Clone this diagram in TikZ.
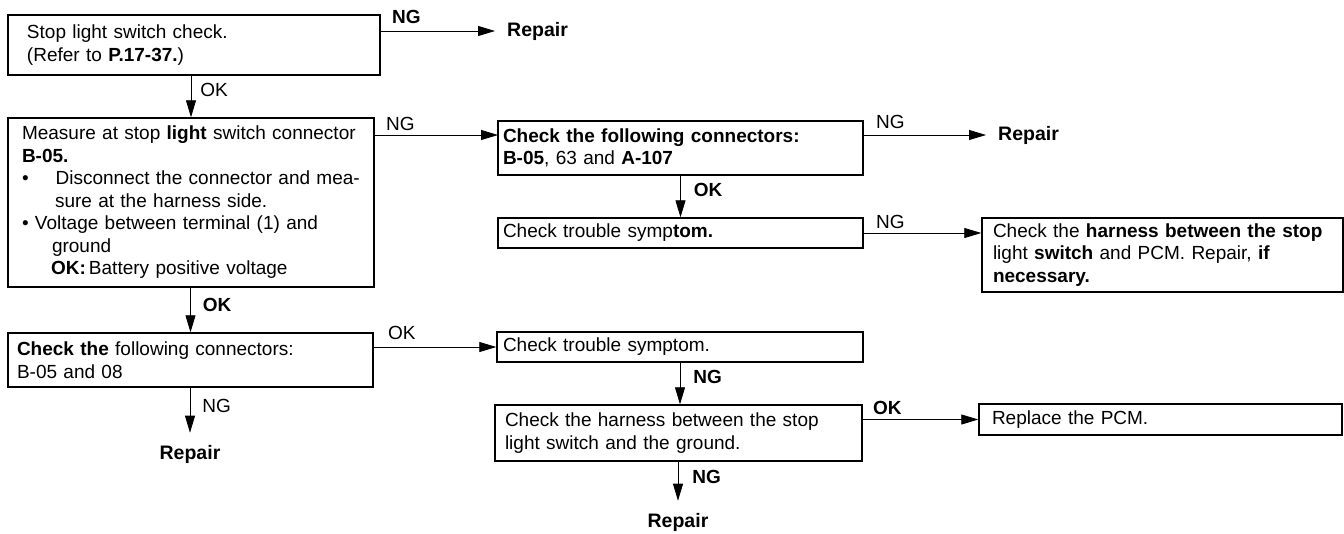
\documentclass[tikz,border=0pt]{standalone}
\usepackage{fontspec}
\setmainfont{Liberation Sans}
\usetikzlibrary{arrows.meta}

\begin{document}
\begin{tikzpicture}[
    x=1pt, y=-1pt,
    every node/.style={font=\fontsize{19}{22.5}\selectfont},
    box/.style={draw, line width=1.4pt, align=left, inner ysep=0pt},
    term/.style={font=\fontsize{19.5}{22.5}\selectfont\bfseries, inner sep=12pt},
    lbl/.style={inner sep=0pt},
    lblb/.style={inner sep=0pt, font=\fontsize{19}{22.5}\selectfont\bfseries},
    arr/.style={line width=0.8pt, -{Triangle[length=17pt, width=10pt]}}
  ]
  \useasboundingbox (0,0) rectangle (1344,533);

  % Left column
  \node[box, minimum width=372pt, minimum height=60pt, inner xsep=19pt, text width=334pt] (stopchk) at (194,45)
    {Stop light switch check.\\(Refer to \textbf{P.17-37.})};
  \node[box, minimum width=366pt, minimum height=169pt, inner xsep=14pt, text width=338pt] (measure) at (191,202.5)
    {Measure at stop \textbf{light} switch connector\\
     \textbf{B-05.}\\
     \textbullet\hspace{27pt}Disconnect the connector and mea-\\
     \hspace*{33pt}sure at the harness side.\\
     \textbullet\ Voltage between terminal (1) and\\
     \hspace*{30pt}ground\\
     \hspace*{29pt}\textbf{OK:}\,Battery positive voltage};
  \node[box, minimum width=365pt, minimum height=54pt, inner xsep=9pt, text width=347pt] (conn2) at (190.5,360)
    {\textbf{Check the} following connectors:\\B-05 and 08};
  \node[term] (rep3) at (190,454) {Repair};

  % Middle column
  \node[box, minimum width=365pt, minimum height=54pt, inner xsep=5pt, text width=355pt] (conn1) at (680.5,148)
    {\textbf{Check the following connectors:}\\\textbf{B-05}, 63 and \textbf{A-107}};
  \node[box, minimum width=365pt, minimum height=30pt, inner xsep=5pt, text width=355pt] (trbl1) at (680.5,233)
    {Check trouble symp\textbf{tom.}};
  \node[box, minimum width=366pt, minimum height=30pt, inner xsep=6pt, text width=354pt] (trbl2) at (680,347)
    {Check trouble symptom.};
  \node[box, minimum width=367pt, minimum height=56pt, inner xsep=10pt, text width=347pt] (harngnd) at (678.5,433)
    {Check the harness between the stop\\light switch and the ground.};
  \node[term] (rep4) at (678,522) {Repair};
  \coordinate (conn1in) at (498,135);

  % Right column
  \node[term, anchor=west] (rep1) at (495,31) {Repair};
  \node[term, anchor=west] (rep2) at (986,135) {Repair};
  \node[box, minimum width=361pt, minimum height=74pt, inner xsep=11pt, text width=339pt] (harnpcm) at (1162.5,255)
    {Check the \textbf{harness between the stop}\\light \textbf{switch} and PCM. Repair, \textbf{if}\\\textbf{necessary.}};
  \node[box, minimum width=363pt, minimum height=31pt, inner xsep=13pt, text width=337pt] (rplpcm) at (1160.5,419.5)
    {Replace the PCM.};

  % Horizontal connectors
  \draw[arr] (stopchk.east |- rep1) -- (rep1)
    node[lblb, pos=0, anchor=base west, xshift=11pt, yshift=8pt] {NG};
  \draw[arr] (measure.east |- conn1in) -- (conn1in)
    node[lbl, pos=0, anchor=base west, xshift=11pt, yshift=5pt] {NG};
  \draw[arr] (conn1.east |- rep2) -- (rep2)
    node[lbl, pos=0, anchor=base west, xshift=12pt, yshift=7pt] {NG};
  \draw[arr] (trbl1.east) -- (trbl1.east -| harnpcm.west)
    node[lbl, pos=0, anchor=base west, xshift=12pt, yshift=5pt] {NG};
  \draw[arr] (trbl2.west -| conn2.east) -- (trbl2.west)
    node[lbl, pos=0, anchor=base west, xshift=14pt, yshift=8pt] {OK};
  \draw[arr] (rplpcm.west -| harngnd.east) -- (rplpcm.west)
    node[lblb, pos=0, anchor=base west, xshift=10pt, yshift=5pt] {OK};

  % Vertical connectors
  \draw[arr] (measure.north |- stopchk.south) -- (measure.north)
    node[lbl, pos=.5, anchor=base west, xshift=9pt] {OK};
  \draw[arr] (conn2.north |- measure.south) -- (conn2.north)
    node[lblb, pos=.5, anchor=base west, xshift=12pt, yshift=-1pt] {OK};
  \draw[arr] (conn2.south -| rep3) -- (rep3)
    node[lbl, pos=.5, anchor=base west, xshift=12pt, yshift=-2pt] {NG};
  \draw[arr] (conn1.south) -- (trbl1.north)
    node[lblb, pos=.5, anchor=base west, xshift=13pt] {OK};
  \draw[arr] (trbl2.south) -- (trbl2.south |- harngnd.north)
    node[lblb, pos=.5, anchor=base west, xshift=13pt] {NG};
  \draw[arr] (harngnd.south -| rep4) -- (rep4)
    node[lblb, pos=.5, anchor=base west, xshift=14pt, yshift=-2pt] {NG};

\end{tikzpicture}
\end{document}
